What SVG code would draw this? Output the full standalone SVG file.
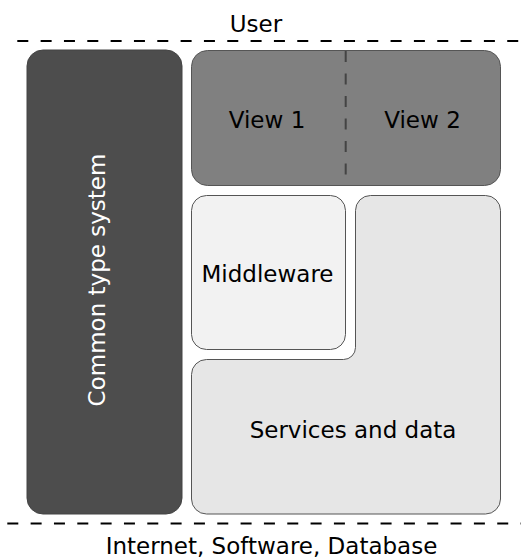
<svg xmlns="http://www.w3.org/2000/svg" width="521" height="559" viewBox="0 0 521 559">
<style>
text{font-family:"DejaVu Sans",sans-serif;font-size:23px;fill:#000;text-anchor:middle}
.dash{stroke:#000;stroke-width:2;stroke-dasharray:11 12.33;fill:none}
.box{stroke:#555;stroke-width:1}
</style>
<rect width="521" height="559" fill="#fff"/>
<g id="connectors">
<line class="dash" x1="17.3" y1="41" x2="521" y2="41"/>
<line class="dash" x1="7.3" y1="523.5" x2="521" y2="523.5"/>
</g>
<g id="user"><text x="256" y="32">User</text></g>
<g id="common-type-system">
<rect x="27" y="50" width="155" height="464" rx="16" fill="#4d4d4d" stroke="#444" stroke-width="1"/>
<text transform="translate(105,280) rotate(-90)" style="fill:#fff">Common type system</text>
</g>
<g id="views">
<rect class="box" x="191.5" y="50.5" width="309" height="135" rx="16" fill="#808080"/>
<line x1="345.7" y1="51" x2="345.7" y2="185" stroke="#444" stroke-width="2" stroke-dasharray="11 11.5"/>
<text x="267" y="128">View 1</text>
<text x="422.5" y="128">View 2</text>
</g>
<g id="middleware">
<rect class="box" x="191.5" y="195.5" width="154" height="154" rx="15" fill="#f2f2f2"/>
<text x="267.5" y="282">Middleware</text>
</g>
<g id="services">
<path class="box" fill="#e6e6e6" d="M370.5 195.5 H485.5 A15 15 0 0 1 500.5 210.5 V499 A15 15 0 0 1 485.5 514 H206.5 A15 15 0 0 1 191.5 499 V374.5 A15 15 0 0 1 206.5 359.5 H343.5 A12 12 0 0 0 355.5 347.5 V210.5 A15 15 0 0 1 370.5 195.5 Z"/>
<text x="353" y="437.5">Services and data</text>
</g>
<g id="bottom"><text x="271.5" y="553.5">Internet, Software, Database</text></g>
</svg>
